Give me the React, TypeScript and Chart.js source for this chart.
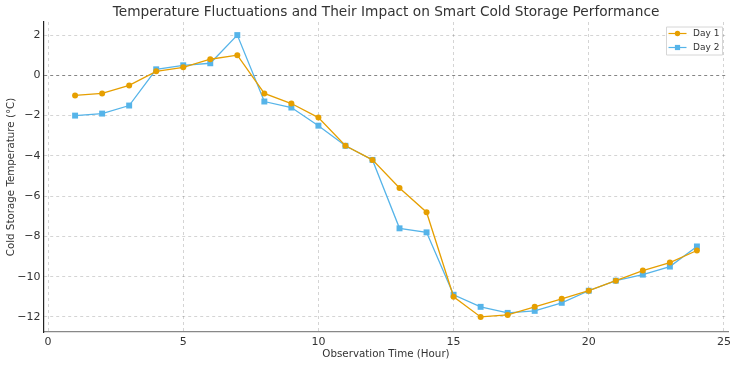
import React, { useEffect, useRef } from "react";
import { Chart, registerables } from "chart.js";

Chart.register(...registerables);

const hours = [1, 2, 3, 4, 5, 6, 7, 8, 9, 10, 11, 12, 13, 14, 15, 16, 17, 18, 19, 20, 21, 22, 23, 24];
const day1 = [-1.0, -0.9, -0.5, 0.2, 0.4, 0.8, 1.0, -0.9, -1.4, -2.1, -3.5, -4.2, -5.6, -6.8, -11.0, -12.0, -11.9, -11.5, -11.1, -10.7, -10.2, -9.7, -9.3, -8.7];
const day2 = [-2.0, -1.9, -1.5, 0.3, 0.5, 0.6, 2.0, -1.3, -1.6, -2.5, -3.5, -4.2, -7.6, -7.8, -10.9, -11.5, -11.8, -11.7, -11.3, -10.7, -10.2, -9.9, -9.5, -8.5];
const xTicks = [0, 5, 10, 15, 20, 25];
const yTicks = [-12, -10, -8, -6, -4, -2, 0, 2];

const TITLE = "Temperature Fluctuations and Their Impact on Smart Cold Storage Performance";
const FONT = "'DejaVu Sans', sans-serif";
const ORANGE = "#E69F00";
const BLUE = "#56B4E9";

const fmt = (v: number) => (v < 0 ? "\u2212" + Math.abs(v) : String(v));

const overlayPlugin = {
  id: "overlay",
  afterDraw(chart: any) {
    const { ctx, chartArea } = chart;
    ctx.save();
    // title
    ctx.fillStyle = "#333333";
    ctx.font = `13.7px ${FONT}`;
    ctx.textAlign = "center";
    ctx.textBaseline = "middle";
    ctx.fillText(TITLE, (chartArea.left + chartArea.right) / 2, 12);
    // legend
    const bx = chartArea.right - 62;
    const by = chartArea.top + 4.5;
    const bw = 56;
    const bh = 28;
    ctx.fillStyle = "rgba(255,255,255,0.85)";
    ctx.strokeStyle = "#d6d6d6";
    ctx.lineWidth = 1;
    ctx.beginPath();
    ctx.rect(bx + 0.5, by + 0.5, bw, bh);
    ctx.fill();
    ctx.stroke();
    chart.data.datasets.forEach((ds: any, i: number) => {
      const cy = by + 7 + i * 14;
      ctx.strokeStyle = ds.borderColor;
      ctx.lineWidth = 1.2;
      ctx.beginPath();
      ctx.moveTo(bx + 2.5, cy);
      ctx.lineTo(bx + 20.5, cy);
      ctx.stroke();
      ctx.fillStyle = ds.backgroundColor;
      if (ds.pointStyle === "rect") {
        ctx.fillRect(bx + 11.5 - 2.6, cy - 2.6, 5.2, 5.2);
      } else {
        ctx.beginPath();
        ctx.arc(bx + 11.5, cy, 2.7, 0, Math.PI * 2);
        ctx.fill();
      }
      ctx.fillStyle = "#333333";
      ctx.font = `9px ${FONT}`;
      ctx.textAlign = "left";
      ctx.textBaseline = "middle";
      ctx.fillText(ds.label, bx + 27, cy);
    });
    ctx.restore();
  },
};

export default function App() {
  const ref = useRef<HTMLCanvasElement | null>(null);
  useEffect(() => {
    document.body.style.margin = "0";
    if (!ref.current) return;
    const gridColor = (c: any) =>
      c.tick && c.tick.value === 0 ? "#858585" : "rgba(0,0,0,0.17)";
    const chart = new Chart(ref.current, {
      type: "line",
      data: {
        labels: hours,
        datasets: [
          {
            label: "Day 1",
            data: hours.map((h, i) => ({ x: h, y: day1[i] })),
            borderColor: ORANGE,
            backgroundColor: ORANGE,
            borderWidth: 1.3,
            pointStyle: "circle",
            pointRadius: 3,
            pointBorderWidth: 0,
            tension: 0,
          },
          {
            label: "Day 2",
            data: hours.map((h, i) => ({ x: h, y: day2[i] })),
            borderColor: BLUE,
            backgroundColor: BLUE,
            borderWidth: 1.3,
            pointStyle: "rect",
            pointRadius: 4.2,
            pointBorderWidth: 0,
            tension: 0,
          },
        ],
      },
      options: {
        animation: false,
        responsive: false,
        layout: { padding: { top: 22, right: 6, left: 0, bottom: 5 } },
        plugins: { legend: { display: false }, title: { display: false }, tooltip: { enabled: false } },
        scales: {
          x: {
            type: "linear",
            min: -0.15,
            max: 25.15,
            afterBuildTicks: (s: any) => {
              s.ticks = xTicks.map((v) => ({ value: v }));
            },
            afterFit: (s: any) => {
              s.height = 28;
            },
            ticks: {
              color: "#333333",
              font: { family: FONT, size: 11 },
              padding: 0.5,
              maxRotation: 0,
              callback: (v: any) => fmt(Number(v)),
            },
            grid: {
              color: "rgba(0,0,0,0.17)",
              tickLength: 3,
              tickColor: "rgba(0,0,0,0)",
            },
            border: { display: true, color: "#888888", width: 1.2, dash: [3, 3] },
            title: {
              display: true,
              text: "Observation Time (Hour)",
              color: "#333333",
              font: { family: FONT, size: 10.3 },
              padding: { top: 0, bottom: -0.5 },
            },
          },
          y: {
            min: -12.75,
            max: 2.65,
            afterBuildTicks: (s: any) => {
              s.ticks = yTicks.map((v) => ({ value: v }));
            },
            afterFit: (s: any) => {
              s.width = 44;
            },
            ticks: {
              color: "#333333",
              font: { family: FONT, size: 11 },
              padding: 0.5,
              callback: (v: any) => fmt(Number(v)),
            },
            grid: {
              color: gridColor,
              tickLength: 3,
              tickColor: "rgba(0,0,0,0)",
            },
            border: { display: true, color: "#222222", width: 1.2, dash: [3, 3] },
            title: {
              display: true,
              text: "Cold Storage Temperature (\u00B0C)",
              color: "#333333",
              font: { family: FONT, size: 10.3 },
              padding: { top: 5.5, bottom: 0 },
            },
          },
        },
      },
      plugins: [overlayPlugin],
    } as any);
    return () => chart.destroy();
  }, []);
  return (
    <div style={{ position: "absolute", left: 0, top: 0, width: 734, height: 365 }}>
      <canvas ref={ref} width={734} height={365} style={{ width: 734, height: 365 }} />
    </div>
  );
}
